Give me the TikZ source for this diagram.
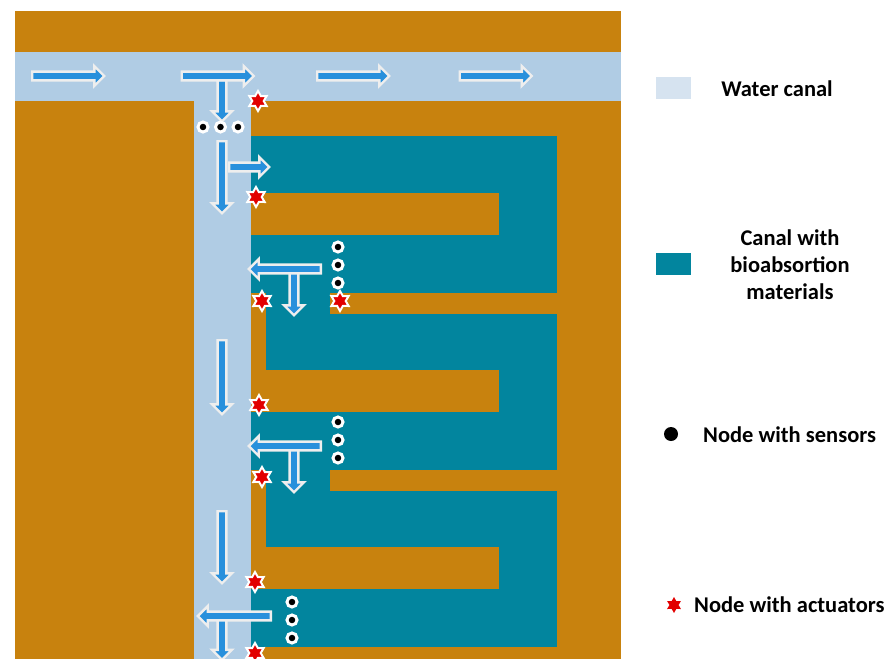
\documentclass[tikz,border=0pt]{standalone}
\usepackage{fontspec}
\setmainfont{Carlito}
\usepackage{tikz}
\usetikzlibrary{shapes.geometric, shapes.arrows}
\definecolor{soil}{RGB}{200,130,14}
\definecolor{water}{RGB}{176,204,228}
\definecolor{legendwater}{RGB}{214,227,240}
\definecolor{bio}{RGB}{2,133,158}
\definecolor{flowblue}{RGB}{40,144,220}
\definecolor{flowedge}{RGB}{238,238,238}
\definecolor{actred}{RGB}{226,0,0}
\tikzset{
  flow/.style={single arrow, draw=flowedge, fill=flowblue, line width=2.4pt, inner sep=3.2pt,
    single arrow head extend=5.5pt, minimum height=72pt},
  actuator/.style={star, star points=6, star point ratio=1.75, fill=actred, draw=white,
    line width=2pt, minimum size=20pt, inner sep=0pt},
  sensor/.style={circle, fill=black, draw=white, line width=3pt, minimum size=10pt, inner sep=0pt},
  legendtext/.style={font=\bfseries\fontsize{22.5}{27}\selectfont, align=center, inner sep=0pt}
}
\newcommand{\sensors}[3]{%
  \foreach \k [count=\i] in {0,18,36}
    \node[sensor] (#3-\i) at (#1,#2+\k) {};
}

\begin{document}
\begin{tikzpicture}[x=1pt, y=-1pt]
    \useasboundingbox (0,0) rectangle (887,659);

    % Ground and water canals
    \fill[soil] (15,11) rectangle (621,659);
    \fill[water] (15,52) rectangle (621,101);
    \fill[water] (194,101) rectangle (251,659);

    % Canal with bioabsortion materials
    \fill[bio] (251,136) rectangle (557,647);
    \foreach \y in {0,177,354}
      \fill[soil] (251,193+\y) rectangle (499,235+\y);
    \foreach \y in {0,177} {
      \fill[soil] (330,293+\y) rectangle (557,314+\y);
      \fill[soil] (251,293+\y) rectangle (266,371+\y);
    }

    % Flow arrows
    \node[flow] (in1) at (66,76) {};
    \node[flow, rotate=-90, minimum height=41pt] (down0) at (222,98.5) {};
    \node[flow] (in2) at (215.5,76) {};
    \node[flow] (in3) at (351,76) {};
    \node[flow] (in4) at (493.5,76) {};

    \node[flow, minimum height=40pt] (branch) at (247,167) {};
    \node[flow, rotate=-90] (down1) at (222,175) {};

    \node[flow, rotate=-90, minimum height=44pt] (drop1) at (294,291) {};
    \node[flow, rotate=180] (back1) at (287,269) {};
    \node[flow, rotate=-90, minimum height=74pt] (down2) at (222,375) {};

    \node[flow, rotate=-90, minimum height=44pt] (drop2) at (294,468) {};
    \node[flow, rotate=180] (back2) at (287,446) {};
    \node[flow, rotate=-90] (down3) at (222,545) {};

    \node[flow, rotate=-90, minimum height=41pt] (drop3) at (222,637) {};
    \node[flow, rotate=180, minimum height=73pt] (back3) at (236.5,616) {};

    % Actuators
    \foreach \x/\y [count=\i] in {258/101, 256/197, 262/301, 340/301, 259/405, 262/477, 255/582, 255/653}
      \node[actuator] (act\i) at (\x,\y) {};

    % Sensors
    \foreach \x [count=\i] in {203,220.5,238}
      \node[sensor] (top-\i) at (\x,127) {};
    \sensors{338}{247}{s1}
    \sensors{338}{422}{s2}
    \sensors{292}{602}{s3}

    % Legend
    \fill[legendwater] (656,77) rectangle (691,99);
    \node[legendtext, anchor=base] (lwater) at (777,96) {Water canal};
    \fill[bio] (656,253) rectangle (691,275);
    \node[legendtext] (lbio) at (790,265) {Canal with\\bioabsortion\\materials};
    \node[circle, fill=black, minimum size=14pt, inner sep=0pt] (lsens) at (671,434) {};
    \node[legendtext, anchor=base west] (lsenstext) at (703,442) {Node with sensors};
    \node[actuator, draw=none, minimum size=16pt] (lact) at (674,605) {};
    \node[legendtext, anchor=base west] (lacttext) at (694,612) {Node with actuators};
\end{tikzpicture}
\end{document}
